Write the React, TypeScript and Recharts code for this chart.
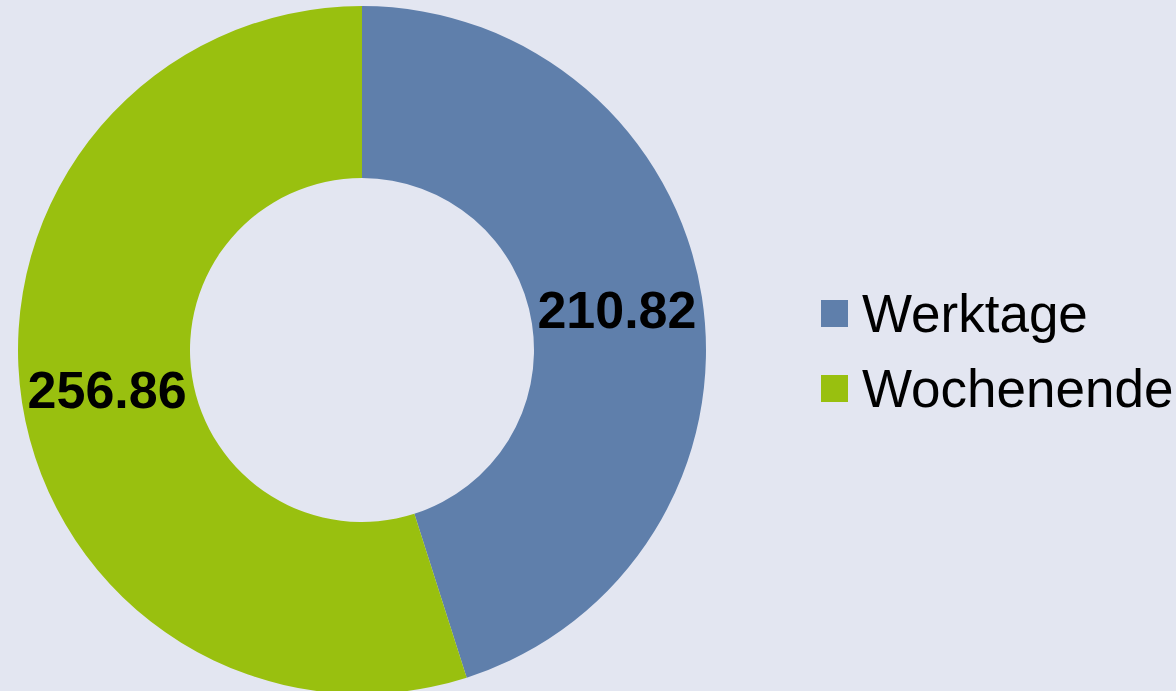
import { PieChart, Pie, Cell, Legend } from 'recharts'

const categories = ['Werktage', 'Wochenende']
const values = [210.82, 256.86]
const colors = ['#5f7fab', '#99c00f']

const data = categories.map((name, i) => ({ name, value: values[i] }))

const RADIAN = Math.PI / 180

function renderLabel(props: any) {
  const { cx, cy, midAngle, innerRadius, outerRadius, value } = props
  const r = (innerRadius + outerRadius) / 2
  const x = cx + r * Math.cos(-midAngle * RADIAN)
  const y = cy + r * Math.sin(-midAngle * RADIAN)
  return (
    <text
      x={x}
      y={y}
      fill="#000"
      textAnchor="middle"
      dominantBaseline="central"
      fontSize={52}
      fontWeight="bold"
      fontFamily="'Liberation Sans', Arial, sans-serif"
    >
      {value.toFixed(2)}
    </text>
  )
}

function renderLegend() {
  return (
    <div style={{ fontFamily: "'Liberation Sans', Arial, sans-serif" }}>
      {categories.map((c, i) => (
        <div key={c} style={{ display: 'flex', alignItems: 'center', height: 75 }}>
          <span
            style={{ width: 27, height: 27, background: colors[i], display: 'inline-block', marginRight: 14 }}
          />
          <span style={{ fontSize: 53, color: '#000', lineHeight: '75px' }}>{c}</span>
        </div>
      ))}
    </div>
  )
}

export default function App() {
  return (
    <div style={{ width: 1176, height: 691, background: '#e3e6f1', position: 'relative', overflow: 'hidden' }}>
      <style>{'body{margin:0}'}</style>
      <PieChart width={1176} height={691} margin={{ top: 0, right: 0, bottom: 0, left: 0 }}>
        <Pie
          data={data}
          dataKey="value"
          nameKey="name"
          cx={362}
          cy={350}
          innerRadius={172}
          outerRadius={344}
          startAngle={90}
          endAngle={-270}
          stroke="none"
          label={renderLabel}
          labelLine={false}
          isAnimationActive={false}
        >
          {data.map((d, i) => (
            <Cell key={d.name} fill={colors[i]} />
          ))}
        </Pie>
        <Legend
          layout="vertical"
          verticalAlign="top"
          align="right"
          content={renderLegend}
          wrapperStyle={{ left: 821, top: 276, width: 355 }}
        />
      </PieChart>
    </div>
  )
}
